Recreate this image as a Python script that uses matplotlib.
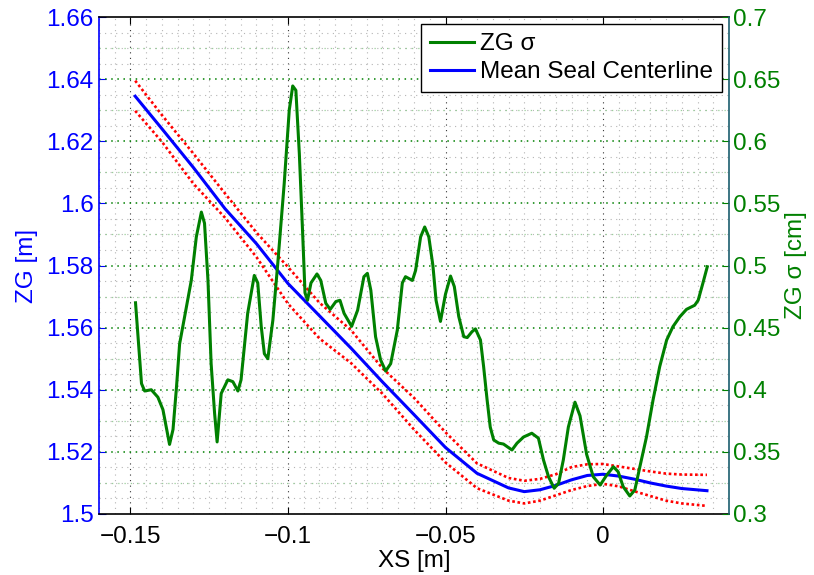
import numpy as np
import matplotlib
matplotlib.use('Agg')
import matplotlib.pyplot as plt
from matplotlib.ticker import MultipleLocator, FuncFormatter
from matplotlib.transforms import blended_transform_factory
from matplotlib.lines import Line2D

plt.rcParams['font.family'] = ['Liberation Sans', 'DejaVu Sans']

# ---- data ----
xs_sigma = [-0.1484, -0.1465, -0.1455, -0.1434, -0.1413, -0.1397, -0.1376, -0.1365, -0.1354, -0.1344,
            -0.1328, -0.1307, -0.1291, -0.1275, -0.1265, -0.1254, -0.1244, -0.1233, -0.1225, -0.1212,
            -0.1191, -0.1175, -0.1159, -0.1149, -0.1128, -0.1107, -0.1096, -0.1085, -0.1075, -0.1064,
            -0.1048, -0.1033, -0.1012, -0.0996, -0.0985, -0.0975, -0.0964, -0.0953, -0.0946, -0.0938,
            -0.0927, -0.0908, -0.0896, -0.0880, -0.0866, -0.0848, -0.0835, -0.0822, -0.0798, -0.0779,
            -0.0759, -0.0748, -0.0737, -0.0722, -0.0706, -0.0690, -0.0674, -0.0653, -0.0637, -0.0627,
            -0.0605, -0.0595, -0.0579, -0.0566, -0.0553, -0.0540, -0.0530, -0.0516, -0.0500, -0.0484,
            -0.0472, -0.0458, -0.0442, -0.0431, -0.0416, -0.0405, -0.0389, -0.0379, -0.0368, -0.0358,
            -0.0347, -0.0331, -0.0316, -0.0289, -0.0273, -0.0252, -0.0226, -0.0205, -0.0189, -0.0173,
            -0.0155, -0.0141, -0.0126, -0.0110, -0.0089, -0.0073, -0.0052, -0.0031, -0.0009, 0.0012,
            0.0033, 0.0048, 0.0064, 0.0085, 0.0101, 0.0117, 0.0138, 0.0159, 0.0180, 0.0202,
            0.0222, 0.0244, 0.0265, 0.0291, 0.0302, 0.0317, 0.0331]
zg_sigma_cm = [0.470, 0.405, 0.399, 0.400, 0.394, 0.384, 0.356, 0.368, 0.402, 0.437,
               0.459, 0.488, 0.523, 0.543, 0.534, 0.488, 0.421, 0.381, 0.358, 0.397,
               0.408, 0.4065, 0.399, 0.408, 0.4615, 0.492, 0.486, 0.451, 0.429, 0.425,
               0.456, 0.500, 0.566, 0.625, 0.6445, 0.641, 0.590, 0.523, 0.478, 0.472,
               0.486, 0.4932, 0.488, 0.4696, 0.4647, 0.471, 0.472, 0.4615, 0.451, 0.464,
               0.491, 0.4937, 0.480, 0.4427, 0.424, 0.415, 0.421, 0.448, 0.486, 0.491,
               0.488, 0.496, 0.523, 0.531, 0.523, 0.500, 0.472, 0.455, 0.477, 0.4915,
               0.483, 0.459, 0.4427, 0.442, 0.4467, 0.449, 0.440, 0.4186, 0.392, 0.370,
               0.3596, 0.357, 0.3563, 0.3515, 0.357, 0.362, 0.365, 0.361, 0.3435, 0.330,
               0.3207, 0.3247, 0.3435, 0.370, 0.390, 0.379, 0.348, 0.330, 0.3233, 0.3314,
               0.338, 0.334, 0.322, 0.3145, 0.3193, 0.338, 0.362, 0.392, 0.4186, 0.440,
               0.4508, 0.4588, 0.4647, 0.468, 0.472, 0.4857, 0.499]

xs_mean = [-0.1485, -0.14, -0.13, -0.12, -0.11, -0.10, -0.09, -0.08, -0.07, -0.06,
           -0.05, -0.04, -0.03, -0.025, -0.02, -0.015, -0.01, -0.005, 0.0, 0.005,
           0.01, 0.015, 0.02, 0.025, 0.033]
zg_mean = [1.6345, 1.6240, 1.6115, 1.5983, 1.5870, 1.5742, 1.5638, 1.5534, 1.5425, 1.5320,
           1.5214, 1.5131, 1.5084, 1.5072, 1.5078, 1.5092, 1.5110, 1.5124, 1.5128, 1.5122,
           1.5112, 1.5100, 1.5090, 1.5082, 1.5075]
zg_upper = [1.6395, 1.6284, 1.6160, 1.6032, 1.5906, 1.5795, 1.5680, 1.5592, 1.5469, 1.5374,
            1.5263, 1.5163, 1.5116, 1.5107, 1.5113, 1.5128, 1.5151, 1.5160, 1.5161, 1.5153,
            1.5145, 1.5137, 1.5130, 1.5127, 1.5126]
zg_lower = [1.6298, 1.6198, 1.6063, 1.5954, 1.5827, 1.5677, 1.5565, 1.5486, 1.5387, 1.5272,
            1.5166, 1.5083, 1.5043, 1.5034, 1.5043, 1.5060, 1.5077, 1.5090, 1.5097, 1.5089,
            1.5073, 1.5058, 1.5043, 1.5034, 1.5026]

x_ticks = [-0.15, -0.1, -0.05, 0]
left_ticks = [1.5, 1.52, 1.54, 1.56, 1.58, 1.6, 1.62, 1.64, 1.66]
right_ticks = [0.3, 0.35, 0.4, 0.45, 0.5, 0.55, 0.6, 0.65, 0.7]

BLUE = '#0000ff'
GREEN = '#008000'
FS = 17.5

fig = plt.figure(figsize=(8.14, 5.75), dpi=100)
ax = fig.add_axes([0.1216, 0.1061, 0.7740, 0.8643])
ax2 = ax.twinx()
ax2.patch.set_visible(False)

ax.set_xlim(-0.16, 0.04)
ax.set_ylim(1.5, 1.66)
ax2.set_ylim(0.3, 0.7)

def fmt(v, pos=None):
    s = '%g' % round(v, 6)
    return s.replace('-', '\u2212')

ax.xaxis.set_major_locator(plt.FixedLocator(x_ticks))
ax.xaxis.set_minor_locator(MultipleLocator(0.005))
ax.yaxis.set_major_locator(plt.FixedLocator(left_ticks))
ax.yaxis.set_minor_locator(MultipleLocator(0.005))
ax2.yaxis.set_major_locator(plt.FixedLocator(right_ticks))
ax.xaxis.set_major_formatter(FuncFormatter(fmt))
ax.yaxis.set_major_formatter(FuncFormatter(fmt))
ax2.yaxis.set_major_formatter(FuncFormatter(fmt))

dot = (0, (1, 4))
# grids
ax.grid(which='minor', axis='both', color='#b4b4b4', linestyle=dot, linewidth=0.8)
ax.grid(which='major', axis='x', color='#333333', linestyle=dot, linewidth=0.8)
trans = blended_transform_factory(ax.transAxes, ax2.transData)
for v in np.arange(0.325, 0.7, 0.05):
    ax.plot([0, 1], [v, v], transform=trans, color='#9ad09a', linestyle=dot, lw=0.9, zorder=1.6)
for v in right_ticks[1:-1]:
    ax.plot([0, 1], [v, v], transform=trans, color=GREEN, linestyle=(0, (1, 3)), lw=1.1, zorder=1.7)

# data
ax.plot(xs_mean, zg_upper, color='#ff0000', linestyle=(0, (1, 1)), lw=1.9, zorder=2)
ax.plot(xs_mean, zg_lower, color='#ff0000', linestyle=(0, (1, 1)), lw=1.9, zorder=2)
ax.plot(xs_mean, zg_mean, color=BLUE, lw=2.2, zorder=3, solid_joinstyle='round')
ax2.plot(xs_sigma, zg_sigma_cm, color=GREEN, lw=2.2, zorder=3, solid_joinstyle='round')

# ticks
ax.tick_params(axis='x', which='major', direction='in', top=True, length=5,
               labelsize=FS, pad=9, colors='black')
ax.tick_params(axis='y', which='major', direction='in', length=5, labelsize=FS,
               pad=4, colors=BLUE)
ax.tick_params(which='minor', length=0)
ax.tick_params(axis='y', right=False)
ax2.tick_params(axis='y', which='major', direction='in', length=5, labelsize=FS,
                pad=3, colors=GREEN)
ax2.tick_params(which='minor', length=0)

# spines
for s in ['top', 'bottom']:
    ax.spines[s].set_color('black')
    ax.spines[s].set_linewidth(1.2)
ax.spines['left'].set_color(BLUE)
ax.spines['left'].set_linewidth(1.2)
ax.spines['right'].set_visible(False)
for s in ['left', 'top', 'bottom']:
    ax2.spines[s].set_visible(False)
ax2.spines['right'].set_color('#1b5e6e')
ax2.spines['right'].set_linewidth(1.2)

ax.set_xlabel('XS [m]', fontsize=FS, color='black', labelpad=1)
ax.set_ylabel('ZG [m]', fontsize=FS, color=BLUE, labelpad=6)
ax2.set_ylabel('ZG \u03c3 [cm]', fontsize=FS, color=GREEN, labelpad=3)

handles = [Line2D([], [], color=GREEN, lw=2.2), Line2D([], [], color=BLUE, lw=2.2)]
leg = ax2.legend(handles, ['ZG \u03c3', 'Mean Seal Centerline'], loc='upper right',
                 fontsize=FS, fancybox=False, framealpha=1, edgecolor='black',
                 borderaxespad=0.3, handlelength=1.8, handletextpad=0.25,
                 labelspacing=0.25, borderpad=0.36)
leg.get_frame().set_linewidth(1.0)

fig.savefig('out.png', dpi=100)
